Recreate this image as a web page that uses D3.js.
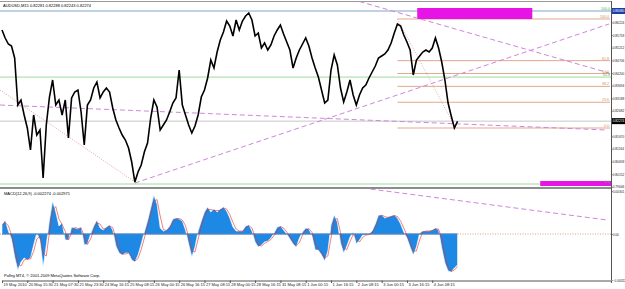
<!DOCTYPE html>
<html>
<head>
<meta charset="utf-8">
<script src="https://cdn.jsdelivr.net/npm/d3@7"></script>
<style>
  body { margin: 0; background: #fff; }
  svg { display: block; font-family: "Liberation Sans", Arial, sans-serif; }
</style>
</head>
<body>
<div id="chart"></div>
<script>
"use strict";

// Chart data (one sample every 8 M15 bars)
var titleText = "AUDUSD,M15  0.82281 0.82288 0.82243 0.82274";
var macdText = "MACD(12,26,9) -0.002274 -0.002971";
var footerText = "Pollny MT4, \u00a9 2001-2009 MetaQuotes Software Corp.";
var barsPerSample = 8;
var lastPrice = 0.82274;

var closePrices = [
  0.8592, 0.8560, 0.8536, 0.8528, 0.8480, 0.8292, 0.8312, 0.8252, 0.8200, 0.8112,
  0.8252, 0.8172, 0.8192, 0.8000, 0.8212, 0.8324, 0.8392, 0.8292, 0.8312, 0.8252,
  0.8312, 0.8160, 0.8320, 0.8344, 0.8352, 0.8264, 0.8132, 0.8292, 0.8312, 0.8360,
  0.8384, 0.8320, 0.8344, 0.8360, 0.8344, 0.8280, 0.8232, 0.8200, 0.8172, 0.8152,
  0.8120, 0.8064, 0.7984, 0.8024, 0.8052, 0.8104, 0.8140, 0.8240, 0.8312, 0.8284,
  0.8192, 0.8212, 0.8232, 0.8264, 0.8300, 0.8320, 0.8432, 0.8292, 0.8252, 0.8212,
  0.8180, 0.8208, 0.8252, 0.8324, 0.8352, 0.8400, 0.8472, 0.8440, 0.8504, 0.8552,
  0.8584, 0.8628, 0.8608, 0.8568, 0.8632, 0.8592, 0.8628, 0.8648, 0.8660, 0.8632,
  0.8568, 0.8580, 0.8520, 0.8540, 0.8512, 0.8532, 0.8568, 0.8592, 0.8612, 0.8576,
  0.8544, 0.8512, 0.8440, 0.8480, 0.8512, 0.8536, 0.8560, 0.8528, 0.8480, 0.8440,
  0.8404, 0.8352, 0.8300, 0.8312, 0.8432, 0.8492, 0.8452, 0.8360, 0.8304, 0.8344,
  0.8392, 0.8332, 0.8292, 0.8332, 0.8360, 0.8372, 0.8400, 0.8424, 0.8448, 0.8480,
  0.8488, 0.8496, 0.8512, 0.8540, 0.8580, 0.8616, 0.8608, 0.8572, 0.8544, 0.8512,
  0.8412, 0.8472, 0.8488, 0.8504, 0.8512, 0.8504, 0.8520, 0.8560, 0.8520, 0.8464,
  0.8392, 0.8300, 0.8248, 0.8200, 0.8227
];

var macdMain = [
  0.00063, 0.00098, 0.00021, -0.00035, -0.00161, -0.00252, -0.00196, -0.00168, -0.00182, -0.00168,
  -0.00077, 0.00007, -0.00042, -0.00231, -0.00077, 0.00098, 0.00231, 0.00154, 0.00056, 0.00077,
  -0.00042, -0.00042, 0.00049, 0.00042, 0.00035, 0.00049, -0.00077, -0.00070, 0.00000, 0.00056,
  0.00098, 0.00042, 0.00028, 0.00049, 0.00063, 0.00028, -0.00084, -0.00133, -0.00147, -0.00133,
  -0.00133, -0.00182, -0.00196, -0.00147, -0.00070, 0.00014, 0.00091, 0.00182, 0.00273, 0.00210,
  0.00042, 0.00021, 0.00028, 0.00056, 0.00105, 0.00112, 0.00105, 0.00091, 0.00028, -0.00070,
  -0.00161, -0.00091, 0.00021, 0.00091, 0.00154, 0.00189, 0.00154, 0.00175, 0.00154, 0.00175,
  0.00189, 0.00161, 0.00112, 0.00049, 0.00021, 0.00021, 0.00021, 0.00056, 0.00063, 0.00021,
  -0.00056, -0.00091, -0.00077, -0.00056, -0.00049, -0.00028, 0.00007, 0.00049, 0.00056, 0.00028,
  0.00000, -0.00035, -0.00070, -0.00091, -0.00028, 0.00014, 0.00042, 0.00035, -0.00014, -0.00112,
  -0.00112, -0.00147, -0.00189, -0.00119, 0.00063, 0.00133, 0.00084, -0.00063, -0.00133, -0.00084,
  -0.00021, 0.00014, -0.00070, -0.00042, -0.00007, -0.00007, 0.00000, 0.00021, 0.00070, 0.00133,
  0.00133, 0.00112, 0.00119, 0.00126, 0.00133, 0.00112, 0.00070, 0.00014, -0.00028, -0.00091,
  -0.00147, -0.00091, 0.00007, 0.00021, 0.00021, 0.00021, 0.00028, 0.00042, 0.00028, -0.00098,
  -0.00203, -0.00259, -0.00266, -0.00238, -0.00217
];

var timeLabels = [
  "19 May 2010", "20 May 15:30", "21 May 07:30", "21 May 23:30", "24 May 16:15",
  "25 May 08:15", "26 May 00:15", "26 May 16:15", "27 May 08:15", "28 May 00:15",
  "28 May 16:15", "31 May 08:15", "1 Jun 00:15", "1 Jun 16:15", "2 Jun 08:15",
  "3 Jun 00:15", "3 Jun 16:15", "4 Jun 08:15"
];
var barsPerLabel = 64;

// 0.82176 sits under the last-price box, so it is not listed
var priceTicks = [
  0.86224, 0.85718, 0.85212, 0.84706, 0.84200, 0.83694, 0.83188,
  0.82682, 0.81670, 0.81164, 0.80658, 0.80152, 0.79646
];
var macdTicks = [0.00301, 0.00, -0.00322];

// Orange Fibonacci retracement: [bar, price] of the high and the low
var fibHigh = [1000, 0.8636];
var fibLow = [1147, 0.8200];
var fibLevels = [0, 23.6, 38.2, 50, 61.8, 100];

// Green Fibonacci across the whole window
var greenHigh = 0.8668;
var greenLow = 0.7976;
var greenLevels = [0, 61.8, 100];

// Horizontal line with highlighted label
var hLinePrice = 0.8668;

// Trend lines: [bar1, value1, bar2, value2]
var dashedPriceLines = [
  [904, 0.8706, 1535, 0.8420],
  [336, 0.7980, 1535, 0.8616],
  [-5, 0.8292, 1530, 0.8192]
];
var dottedPriceLines = [
  [-5, 0.8352, 336, 0.7984]
];
var dashedMacdLines = [
  [912, 0.00322, 1530, 0.00098]
];

// Rectangles: [bar1, price1, bar2, price2]
var boxes = [
  [1050, 0.8680, 1341, 0.8636],
  [1361, 0.7988, 1540, 0.7968]
];

// ---------------------------------------------------------------

var width = 625, height = 289;
var plotRight = 611;
var main = { top: 2, bottom: 187 };
var sub = { top: 189, bottom: 280 };
var axisFont = 3.2;

var svg = d3.select("#chart").append("svg")
  .attr("width", width)
  .attr("height", height);

svg.append("rect").attr("width", width).attr("height", height).attr("fill", "#fff");

var x = d3.scaleLinear().domain([0, 1540]).range([2, plotRight]);
var y = d3.scaleLinear().domain([0.7964, 0.8700]).range([main.bottom, 3]);
var ym = d3.scaleLinear().domain([-0.00322, 0.00315]).range([sub.bottom, sub.top]);

var defs = svg.append("defs");
defs.append("clipPath").attr("id", "clipMain").append("rect")
  .attr("x", 0).attr("y", main.top).attr("width", plotRight).attr("height", main.bottom - main.top);
defs.append("clipPath").attr("id", "clipSub").append("rect")
  .attr("x", 0).attr("y", sub.top).attr("width", plotRight).attr("height", sub.bottom - sub.top);

var gMain = svg.append("g").attr("clip-path", "url(#clipMain)");
var gSub = svg.append("g").attr("clip-path", "url(#clipSub)");

var barOf = function (d, i) { return i * barsPerSample; };

// Green fibo lines
greenLevels.forEach(function (lv) {
  var p = greenLow + (greenHigh - greenLow) * lv / 100;
  gMain.append("line")
    .attr("x1", 0).attr("x2", plotRight)
    .attr("y1", y(p)).attr("y2", y(p))
    .attr("stroke", lv === 100 ? "#7fa6c8" : "#9ddc9d").attr("stroke-width", 1);
  svg.append("text")
    .attr("x", plotRight - 1).attr("y", y(p) - 1)
    .attr("text-anchor", "end").attr("font-size", 3.6)
    .attr("fill", "#4caf50")
    .text(lv.toFixed(1));
});

// Current price line
gMain.append("line")
  .attr("x1", 0).attr("x2", plotRight)
  .attr("y1", y(lastPrice)).attr("y2", y(lastPrice))
  .attr("stroke", "#c8c8c8").attr("stroke-width", 1);

// Orange fibo
fibLevels.forEach(function (lv) {
  var p = fibLow[1] + (fibHigh[1] - fibLow[1]) * lv / 100;
  gMain.append("line")
    .attr("x1", x(fibHigh[0])).attr("x2", plotRight - 1)
    .attr("y1", y(p)).attr("y2", y(p))
    .attr("stroke", "#e3a98c").attr("stroke-width", 1);
  svg.append("text")
    .attr("x", plotRight - 2).attr("y", y(p) - 1)
    .attr("text-anchor", "end").attr("font-size", 3.6)
    .attr("fill", "#d4895f")
    .text(lv.toFixed(1));
});
gMain.append("line")
  .attr("x1", x(fibHigh[0])).attr("y1", y(fibHigh[1]))
  .attr("x2", x(fibLow[0])).attr("y2", y(fibLow[1]))
  .attr("stroke", "#d9a090").attr("stroke-width", 0.8)
  .attr("stroke-dasharray", "1,1.5");

// Rectangles
gMain.selectAll("rect.box")
  .data(boxes)
  .enter().append("rect")
    .attr("class", "box")
    .attr("x", function (d) { return x(d[0]); })
    .attr("y", function (d) { return y(d[1]); })
    .attr("width", function (d) { return x(d[2]) - x(d[0]); })
    .attr("height", function (d) { return y(d[3]) - y(d[1]); })
    .attr("fill", "#e615e6");

// Trend lines
gMain.selectAll("line.dash")
  .data(dashedPriceLines)
  .enter().append("line")
    .attr("class", "dash")
    .attr("x1", function (d) { return x(d[0]); })
    .attr("y1", function (d) { return y(d[1]); })
    .attr("x2", function (d) { return x(d[2]); })
    .attr("y2", function (d) { return y(d[3]); })
    .attr("stroke", "#cf86dc").attr("stroke-width", 1)
    .attr("stroke-dasharray", "5,3");

gMain.selectAll("line.dot")
  .data(dottedPriceLines)
  .enter().append("line")
    .attr("class", "dot")
    .attr("x1", function (d) { return x(d[0]); })
    .attr("y1", function (d) { return y(d[1]); })
    .attr("x2", function (d) { return x(d[2]); })
    .attr("y2", function (d) { return y(d[3]); })
    .attr("stroke", "#d98a8a").attr("stroke-width", 0.8)
    .attr("stroke-dasharray", "1,1.5");

// Price
var priceLine = d3.line()
  .x(function (d, i) { return x(barOf(d, i)); })
  .y(function (d) { return y(d); });

gMain.append("path")
  .datum(closePrices)
  .attr("d", priceLine)
  .attr("fill", "none")
  .attr("stroke", "#000")
  .attr("stroke-width", 1.6)
  .attr("stroke-linejoin", "miter");

// MACD window
gSub.append("line")
  .attr("x1", 0).attr("x2", plotRight)
  .attr("y1", ym(0)).attr("y2", ym(0))
  .attr("stroke", "#c98b6b").attr("stroke-width", 0.8)
  .attr("stroke-dasharray", "1,1.5");

var histArea = d3.area()
  .x(function (d, i) { return x(barOf(d, i)); })
  .y0(ym(0))
  .y1(function (d) { return ym(d); });

gSub.append("path")
  .datum(macdMain)
  .attr("d", histArea)
  .attr("fill", "#1e88e5")
  .attr("stroke", "#fff")
  .attr("stroke-width", 0.6);

gSub.append("line")
  .attr("x1", x(0)).attr("x2", x((macdMain.length - 1) * barsPerSample))
  .attr("y1", ym(0)).attr("y2", ym(0))
  .attr("stroke", "#1a5fb4").attr("stroke-width", 1);

// Signal line: moving average of the main line, as the indicator defines it
var signal = macdMain.map(function (d, i) {
  return d3.mean(macdMain.slice(Math.max(0, i - 1), i + 1));
});
gSub.append("path")
  .datum(signal)
  .attr("d", d3.line()
    .x(function (d, i) { return x(barOf(d, i)); })
    .y(function (d) { return ym(d); }))
  .attr("fill", "none")
  .attr("stroke", "#e0302a")
  .attr("stroke-width", 0.6);

gSub.selectAll("line.mdash")
  .data(dashedMacdLines)
  .enter().append("line")
    .attr("class", "mdash")
    .attr("x1", function (d) { return x(d[0]); })
    .attr("y1", function (d) { return ym(d[1]); })
    .attr("x2", function (d) { return x(d[2]); })
    .attr("y2", function (d) { return ym(d[3]); })
    .attr("stroke", "#cf86dc").attr("stroke-width", 1)
    .attr("stroke-dasharray", "5,3");

// Frames
svg.append("line").attr("x1", 0).attr("x2", plotRight).attr("y1", main.top - 0.5).attr("y2", main.top - 0.5)
  .attr("stroke", "#9a9a9a");
svg.append("rect").attr("x", 0).attr("y", main.bottom).attr("width", plotRight).attr("height", 2)
  .attr("fill", "#8c8c8c");
svg.append("line").attr("x1", plotRight + 0.5).attr("x2", plotRight + 0.5)
  .attr("y1", main.top - 1).attr("y2", sub.bottom)
  .attr("stroke", "#555");

// Axes
var axisRight = d3.axisRight(y)
  .tickValues(priceTicks)
  .tickFormat(d3.format(".5f"))
  .tickSize(1);
var gAxisY = svg.append("g")
  .attr("transform", "translate(" + (plotRight + 0.5) + ",0)")
  .call(axisRight);

var axisMacd = d3.axisRight(ym)
  .tickValues(macdTicks)
  .tickFormat(function (d) { return d === 0 ? "0.00" : d3.format(".5f")(d); })
  .tickSize(1);
var gAxisM = svg.append("g")
  .attr("transform", "translate(" + (plotRight + 0.5) + ",0)")
  .call(axisMacd);

var axisX = d3.axisBottom(x)
  .tickValues(timeLabels.map(function (d, i) { return i * barsPerLabel; }))
  .tickFormat(function (d, i) { return timeLabels[i]; })
  .tickSize(2.5);
var gAxisX = svg.append("g")
  .attr("transform", "translate(0," + (sub.bottom + 0.5) + ")")
  .call(axisX);

[gAxisY, gAxisM, gAxisX].forEach(function (g) {
  g.select(".domain").attr("stroke", "#555");
  g.selectAll(".tick line").attr("stroke", "#555");
  g.selectAll("text").attr("fill", "#222")
    .attr("font-family", "\"Liberation Sans\", Arial, sans-serif");
});
gAxisY.select(".domain").remove();
gAxisM.select(".domain").remove();
gAxisY.selectAll("text").attr("x", 1.2).attr("font-size", axisFont);
gAxisM.selectAll("text").attr("x", 1.2).attr("font-size", axisFont);
gAxisX.selectAll("text").attr("font-size", 4)
  .attr("text-anchor", "start").attr("dx", 1).attr("y", 3);

// Highlighted price labels
var priceBox = function (price, fill) {
  svg.append("rect")
    .attr("x", plotRight + 1).attr("y", y(price) - 3)
    .attr("width", width - plotRight).attr("height", 6)
    .attr("fill", fill);
  svg.append("text")
    .attr("x", plotRight + 1.7).attr("y", y(price) + 1.2)
    .attr("font-size", axisFont).attr("fill", "#fff")
    .text(d3.format(".5f")(price));
};
priceBox(hLinePrice, "#1b3fa8");
priceBox(lastPrice, "#000");

// Texts
svg.append("text").attr("x", 3).attr("y", 6.5).attr("font-size", 4).attr("fill", "#000").text(titleText);
svg.append("text").attr("x", 4).attr("y", 195).attr("font-size", 4).attr("fill", "#000").text(macdText);
svg.append("text").attr("x", 4).attr("y", 276.5).attr("font-size", 4).attr("fill", "#000").text(footerText);
</script>
</body>
</html>
